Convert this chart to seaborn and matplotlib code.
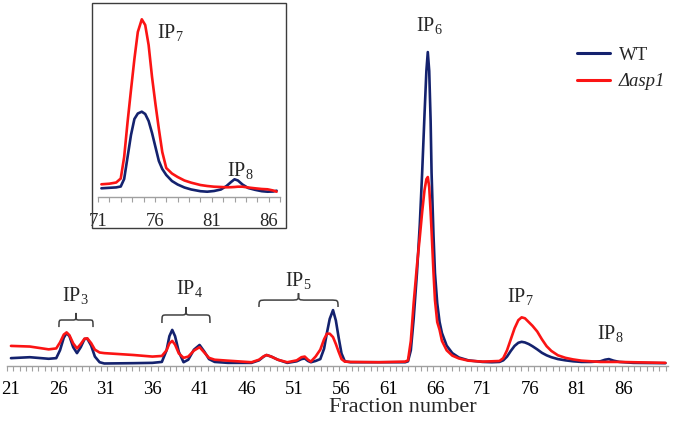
import matplotlib.pyplot as plt
import numpy as np
import pandas as pd
import seaborn as sns
from matplotlib.patches import PathPatch, Rectangle
from matplotlib.path import Path

# main chromatogram (fraction number vs. signal, WT IP6 peak = 100)
fraction = [21.0, 23.0, 25.0, 25.8, 26.2, 26.6, 26.9, 27.2, 27.6, 28.0, 28.4, 28.8,
            29.1, 29.5, 29.9, 30.4, 30.9, 34.0, 36.0, 37.0, 37.5, 37.8, 38.1, 38.4,
            38.8, 39.3, 39.8, 40.4, 41.0, 41.5, 42.0, 42.6, 44.0, 46.5, 47.3, 47.8,
            48.1, 48.6, 49.3, 50.3, 51.3, 51.8, 52.15, 52.5, 52.8, 53.3, 53.8, 54.2,
            54.5, 54.8, 55.15, 55.45, 55.75, 56.05, 56.4, 57.0, 60.0, 62.8, 63.1, 63.4,
            63.7, 64.05, 64.35, 64.6, 64.85, 65.05, 65.2, 65.35, 65.5, 65.6, 65.8, 65.96,
            66.2, 66.45, 66.7, 67.2, 67.8, 68.5, 69.5, 71.0, 72.0, 72.8, 73.2, 73.6,
            74.0, 74.4, 74.8, 75.15, 75.5, 75.9, 76.3, 76.8, 77.3, 77.8, 78.3, 79.0,
            79.8, 80.6, 81.5, 82.5, 83.5, 84.0, 84.4, 84.9, 85.5, 87.0, 90.4]
wt = [2.5, 2.8, 2.3, 2.5, 5.0, 9.0, 10.5, 9.5, 6.0, 4.1, 6.0, 8.6,
      8.7, 6.5, 3.0, 1.2, 0.8, 0.9, 1.0, 1.3, 5.0, 9.5, 11.5, 9.5,
      4.5, 1.2, 2.0, 5.2, 6.7, 4.6, 2.2, 1.3, 1.0, 1.0, 1.8, 3.0,
      3.5, 3.0, 2.0, 1.0, 1.5, 2.2, 2.4, 1.6, 1.2, 1.6, 2.2, 5.5,
      10.5, 15.0, 17.8, 14.5, 9.0, 4.0, 1.5, 1.2, 1.2, 1.2, 1.5, 5.0,
      15.0, 29.6, 45.0, 61.5, 80.0, 94.0, 100.0, 94.0, 78.0, 61.5, 42.0, 29.6,
      20.0, 14.0, 10.5, 6.5, 4.1, 2.7, 1.8, 1.3, 1.2, 1.3, 1.8, 3.0,
      4.8, 6.4, 7.4, 7.7, 7.5, 7.0, 6.3, 5.3, 4.2, 3.4, 2.8, 2.2,
      1.8, 1.5, 1.3, 1.3, 1.5, 2.0, 2.2, 1.7, 1.3, 1.0, 0.9]
asp1 = [6.4, 6.2, 5.3, 5.6, 7.5, 10.0, 10.7, 9.8, 7.2, 5.6, 7.0, 8.7,
        8.8, 7.3, 5.2, 4.3, 4.1, 3.5, 3.0, 3.2, 5.0, 7.2, 8.0, 6.8,
        4.0, 2.6, 3.0, 4.9, 6.0, 4.3, 2.6, 2.0, 1.7, 1.2, 2.0, 3.1,
        3.5, 3.0, 2.0, 1.2, 1.8, 2.8, 3.0, 2.0, 1.4, 3.0, 5.2, 8.5,
        10.3, 10.3, 9.2, 7.0, 4.5, 2.2, 1.4, 1.3, 1.2, 1.4, 1.8, 8.0,
        20.0, 32.0, 41.0, 49.0, 56.0, 59.5, 60.2, 57.0, 49.0, 43.0, 30.0, 21.0,
        14.0, 11.5, 8.0, 5.0, 3.3, 2.4, 1.7, 1.4, 1.5, 1.6, 2.5, 5.0,
        8.5, 12.0, 14.6, 15.5, 15.2, 14.0, 12.8, 11.0, 8.5, 6.3, 4.8, 3.4,
        2.6, 2.1, 1.7, 1.5, 1.3, 1.3, 1.3, 1.3, 1.3, 1.2, 1.0]

# inset: fractions 71-87, rescaled
inset_fraction = [71.3, 72.0, 72.6, 73.0, 73.3, 73.6, 73.9, 74.2, 74.5, 74.85, 75.15,
                  75.45, 75.75, 76.05, 76.35, 76.65, 77.0, 77.5, 78.0, 78.6, 79.2,
                  80.0, 80.6, 81.2, 81.8, 82.3, 82.7, 83.0, 83.3, 83.7, 84.2, 84.8,
                  85.4, 85.9, 86.4, 86.7]
inset_wt = [8.7, 9.2, 9.6, 10.5, 18.0, 40.0, 62.0, 78.0, 83.5, 85.3, 83.0,
            76.0, 64.0, 50.0, 36.0, 28.0, 22.0, 16.0, 12.5, 9.5, 7.5,
            5.8, 5.3, 6.0, 7.5, 11.0, 15.0, 17.7, 16.5, 12.5, 9.0, 7.2,
            5.8, 5.3, 5.5, 6.3]
inset_asp1 = [12.7, 13.3, 14.5, 18.5, 40.0, 75.0, 107.0, 138.0, 165.0, 177.7, 172.0,
              152.0, 120.0, 93.0, 68.0, 45.0, 29.0, 23.5, 20.0, 16.5, 14.3,
              12.0, 11.0, 10.3, 10.0, 9.7, 9.8, 10.0, 10.3, 10.3, 9.5, 8.7,
              8.0, 7.7, 6.5, 5.3]

strains = ["WT", "Δasp1"]
colors = {"WT": "#14226e", "Δasp1": "#fb1414"}

main_df = pd.concat([
    pd.DataFrame({"fraction": fraction, "value": wt, "strain": "WT"}),
    pd.DataFrame({"fraction": fraction, "value": asp1, "strain": "Δasp1"}),
])
inset_df = pd.concat([
    pd.DataFrame({"fraction": inset_fraction, "value": inset_wt, "strain": "WT"}),
    pd.DataFrame({"fraction": inset_fraction, "value": inset_asp1, "strain": "Δasp1"}),
])

sns.set_style("white")
plt.rcParams["font.family"] = ["Liberation Serif", "DejaVu Serif"]
plt.rcParams["mathtext.fontset"] = "custom"
plt.rcParams["mathtext.rm"] = "Liberation Serif"

AXIS_GREY = "#a0a0a0"
BRACE_GREY = "#404040"


def draw_brace(ax, x0, x1, y0, y1):
    """Curly brace opening downward, tip at the top centre."""
    w = x1 - x0
    h = y1 - y0
    pts = [(0, 0), (0, 0.5), (0, 0.5), (0.1, 0.5), (0.4, 0.5),
           (0.5, 0.5), (0.5, 0.5), (0.5, 1.0),
           (0.5, 0.5), (0.5, 0.5), (0.6, 0.5), (0.9, 0.5),
           (1, 0.5), (1, 0.5), (1, 0)]
    codes = [Path.MOVETO, Path.CURVE4, Path.CURVE4, Path.CURVE4, Path.LINETO,
             Path.CURVE4, Path.CURVE4, Path.CURVE4,
             Path.CURVE4, Path.CURVE4, Path.CURVE4, Path.LINETO,
             Path.CURVE4, Path.CURVE4, Path.CURVE4]
    verts = [(x0 + px * w, y0 + py * h) for px, py in pts]
    ax.add_patch(PathPatch(Path(verts, codes), fill=False, edgecolor=BRACE_GREY,
                           lw=1.1, clip_on=False))


fig = plt.figure(figsize=(6.8, 4.24), dpi=100)
W, H = 680, 424

# main axes
ax = fig.add_axes([7 / W, 58 / H, 661 / W, 356 / H])
sns.lineplot(data=main_df, x="fraction", y="value", hue="strain", hue_order=strains,
             palette=colors, linewidth=1.9, ax=ax, legend=True)
ax.set_xlim(20.58, 90.67)
ax.set_ylim(0, 113.4)
ax.set_xticks(np.arange(21, 87, 5))
ax.set_xticks(np.arange(20.58, 90.7, 0.665), minor=True)
ax.tick_params(axis="x", which="major", length=0, pad=10.5, labelsize=13.5, labelcolor="black")
ax.tick_params(axis="x", which="minor", length=3.5, width=0.8, color=AXIS_GREY,
               direction="out", bottom=True)
ax.set_yticks([])
ax.set_ylabel("")
ax.set_xlabel("Fraction number", fontsize=16)
ax.xaxis.set_label_coords((403 - 7) / 661, -0.09)
for side in ["top", "right", "left"]:
    ax.spines[side].set_visible(False)
ax.spines["bottom"].set_color(AXIS_GREY)
ax.spines["bottom"].set_linewidth(1.0)

handles, labels = ax.get_legend_handles_labels()
leg = ax.legend(handles, labels, loc="upper left", bbox_to_anchor=(560 / W, 1 - 30 / H),
                bbox_transform=fig.transFigure, frameon=False, fontsize=13.5,
                handlelength=1.75, handletextpad=0.5, labelspacing=0.5)
for line in leg.get_lines():
    line.set_linewidth(2.2)
leg.get_texts()[1].set_fontstyle("italic")

# peak labels
label_size = 14.5
ax.text(26.41, 20.4, r"IP$_3$", fontsize=label_size, va="baseline")
ax.text(38.50, 22.6, r"IP$_4$", fontsize=label_size, va="baseline")
ax.text(50.06, 25.2, r"IP$_5$", fontsize=label_size, va="baseline")
ax.text(63.95, 106.4, r"IP$_6$", fontsize=label_size, va="baseline")
ax.text(73.60, 20.1, r"IP$_7$", fontsize=label_size, va="baseline")
ax.text(83.14, 8.3, r"IP$_8$", fontsize=label_size, va="baseline")

draw_brace(ax, 26.09, 29.70, 12.4, 16.9)
draw_brace(ax, 37.01, 42.10, 13.7, 18.8)
draw_brace(ax, 47.30, 55.68, 18.8, 23.2)

# inset
fig.patches.append(Rectangle((92 / W, 1 - 228 / H), 194 / W, 225 / H, fill=False,
                             edgecolor="#3c3c3c", lw=1.0, transform=fig.transFigure))
ax_in = fig.add_axes([98 / W, 1 - 197 / H, 182 / W, 192 / H])
sns.lineplot(data=inset_df, x="fraction", y="value", hue="strain", hue_order=strains,
             palette=colors, linewidth=1.9, ax=ax_in, legend=False)
ax_in.set_xlim(71, 87)
ax_in.set_ylim(0, 192)
ax_in.set_xticks(np.arange(71, 88))
ax_in.set_xticklabels([str(v) if (v - 71) % 5 == 0 else "" for v in range(71, 88)])
ax_in.tick_params(axis="x", length=3.5, width=0.8, color=AXIS_GREY, pad=8,
                  labelsize=13.5, direction="out", bottom=True)
ax_in.set_yticks([])
ax_in.set_xlabel("")
ax_in.set_ylabel("")
ax_in.patch.set_alpha(0)
for side in ["top", "right", "left"]:
    ax_in.spines[side].set_visible(False)
ax_in.spines["bottom"].set_color(AXIS_GREY)
ax_in.spines["bottom"].set_linewidth(1.0)
ax_in.text(76.2, 158, r"IP$_7$", fontsize=label_size, va="baseline")
ax_in.text(82.3, 20, r"IP$_8$", fontsize=label_size, va="baseline")

fig.savefig("out.png", dpi=100)
